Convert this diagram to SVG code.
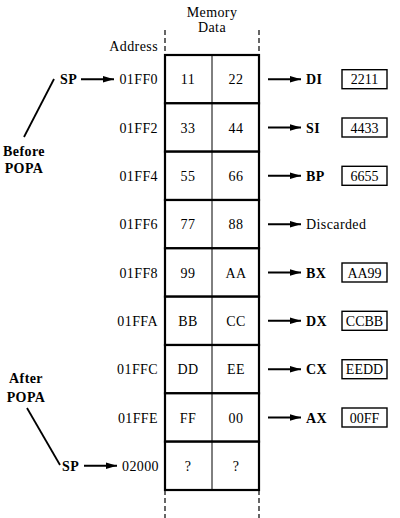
<svg xmlns="http://www.w3.org/2000/svg" width="400" height="518" viewBox="0 0 400 518" font-family="'Liberation Serif', 'DejaVu Serif', 'Times New Roman', serif">
<style>
text{font-family:"Liberation Serif","DejaVu Serif","Times New Roman",Times,serif;font-size:14px;fill:#000;letter-spacing:0.4px}
.b{font-weight:bold}
.m{text-anchor:middle}
.r{text-anchor:end}
.v{font-size:14px;letter-spacing:0}
.cell{fill:#fff;stroke:#000;stroke-width:2.2}
.div{stroke:#000;stroke-width:1}
.reg{fill:#fff;stroke:#000;stroke-width:1.4}
.dash{stroke:#000;stroke-width:1.2;stroke-dasharray:5,3;fill:none}
.arr{stroke:#000;stroke-width:2;fill:none;marker-end:url(#ah)}
.ln{stroke:#000;stroke-width:1.8;fill:none}
</style>
<defs>
<marker id="ah" markerWidth="12" markerHeight="8" refX="11" refY="4" orient="auto" markerUnits="userSpaceOnUse">
<path d="M0,0.8 L11,4 L0,7.2 Z" fill="#000"/>
</marker>
</defs>
<g id="header">
<text class="m" x="212" y="17">Memory</text>
<text class="m" x="212" y="32">Data</text>
<text class="r" x="158" y="51">Address</text>
<line class="dash" x1="165" y1="30" x2="165" y2="55"/>
<line class="dash" x1="259" y1="30" x2="259" y2="55"/>
<line class="dash" x1="165" y1="490" x2="165" y2="518"/>
<line class="dash" x1="259" y1="490" x2="259" y2="518"/>
</g>
<g id="row0"><rect class="cell" x="165" y="55" width="94" height="48.3"/><line class="div" x1="212" y1="55" x2="212" y2="103.3"/><text class="r" x="158" y="84">01FF0</text><text class="m" x="188" y="84">11</text><text class="m" x="236" y="84">22</text></g>
<g id="row1"><rect class="cell" x="165" y="103.3" width="94" height="48.3"/><line class="div" x1="212" y1="103.3" x2="212" y2="151.7"/><text class="r" x="158" y="132.5">01FF2</text><text class="m" x="188" y="132.5">33</text><text class="m" x="236" y="132.5">44</text></g>
<g id="row2"><rect class="cell" x="165" y="151.7" width="94" height="48.3"/><line class="div" x1="212" y1="151.7" x2="212" y2="200"/><text class="r" x="158" y="181">01FF4</text><text class="m" x="188" y="181">55</text><text class="m" x="236" y="181">66</text></g>
<g id="row3"><rect class="cell" x="165" y="200" width="94" height="48.3"/><line class="div" x1="212" y1="200" x2="212" y2="248.3"/><text class="r" x="158" y="229">01FF6</text><text class="m" x="188" y="229">77</text><text class="m" x="236" y="229">88</text></g>
<g id="row4"><rect class="cell" x="165" y="248.3" width="94" height="48.3"/><line class="div" x1="212" y1="248.3" x2="212" y2="296.7"/><text class="r" x="158" y="277.5">01FF8</text><text class="m" x="188" y="277.5">99</text><text class="m" x="236" y="277.5">AA</text></g>
<g id="row5"><rect class="cell" x="165" y="296.7" width="94" height="48.3"/><line class="div" x1="212" y1="296.7" x2="212" y2="345"/><text class="r" x="158" y="326">01FFA</text><text class="m" x="188" y="326">BB</text><text class="m" x="236" y="326">CC</text></g>
<g id="row6"><rect class="cell" x="165" y="345" width="94" height="48.3"/><line class="div" x1="212" y1="345" x2="212" y2="393.3"/><text class="r" x="158" y="374">01FFC</text><text class="m" x="188" y="374">DD</text><text class="m" x="236" y="374">EE</text></g>
<g id="row7"><rect class="cell" x="165" y="393.3" width="94" height="48.3"/><line class="div" x1="212" y1="393.3" x2="212" y2="441.7"/><text class="r" x="158" y="422.5">01FFE</text><text class="m" x="188" y="422.5">FF</text><text class="m" x="236" y="422.5">00</text></g>
<g id="row8"><rect class="cell" x="165" y="441.7" width="94" height="48.3"/><line class="div" x1="212" y1="441.7" x2="212" y2="490"/><text class="r" x="159" y="471">02000</text><text class="m" x="188" y="471">?</text><text class="m" x="236" y="471">?</text></g>
<g id="reg-di"><text class="b" x="306" y="84">DI</text><rect class="reg" x="342" y="69.7" width="45" height="19"/><text class="m v" x="364.5" y="84">2211</text></g>
<g id="reg-si"><text class="b" x="306" y="132.5">SI</text><rect class="reg" x="342" y="118" width="45" height="19"/><text class="m v" x="364.5" y="132.5">4433</text></g>
<g id="reg-bp"><text class="b" x="306" y="181">BP</text><rect class="reg" x="342" y="166.3" width="45" height="19"/><text class="m v" x="364.5" y="181">6655</text></g>
<g id="discarded"><text x="306" y="229">Discarded</text></g>
<g id="reg-bx"><text class="b" x="306" y="277.5">BX</text><rect class="reg" x="342" y="263" width="45" height="19"/><text class="m v" x="364.5" y="277.5">AA99</text></g>
<g id="reg-dx"><text class="b" x="306" y="326">DX</text><rect class="reg" x="342" y="311.3" width="45" height="19"/><text class="m v" x="364.5" y="326">CCBB</text></g>
<g id="reg-cx"><text class="b" x="306" y="374">CX</text><rect class="reg" x="342" y="359.7" width="45" height="19"/><text class="m v" x="364.5" y="374">EEDD</text></g>
<g id="reg-ax"><text class="b" x="306" y="422.5">AX</text><rect class="reg" x="342" y="408" width="45" height="19"/><text class="m v" x="364.5" y="422.5">00FF</text></g>
<g id="before"><text class="b m" x="24" y="156">Before</text><text class="b m" x="24" y="173">POPA</text><text class="b" x="60" y="84">SP</text></g>
<g id="after"><text class="b m" x="26" y="383">After</text><text class="b m" x="26" y="402">POPA</text><text class="b" x="62" y="471">SP</text></g>
<g id="connectors">
<line class="ln" x1="54" y1="79" x2="24" y2="137"/>
<line class="ln" x1="27" y1="408" x2="60" y2="465"/>
<line class="arr" x1="81" y1="79.2" x2="114" y2="79.2"/>
<line class="arr" x1="84" y1="465.8" x2="117" y2="465.8"/>
<line class="arr" x1="268" y1="79.2" x2="301" y2="79.2"/>
<line class="arr" x1="268" y1="127.5" x2="301" y2="127.5"/>
<line class="arr" x1="268" y1="175.8" x2="301" y2="175.8"/>
<line class="arr" x1="268" y1="224.2" x2="301" y2="224.2"/>
<line class="arr" x1="268" y1="272.5" x2="301" y2="272.5"/>
<line class="arr" x1="268" y1="320.8" x2="301" y2="320.8"/>
<line class="arr" x1="268" y1="369.2" x2="301" y2="369.2"/>
<line class="arr" x1="268" y1="417.5" x2="301" y2="417.5"/>
</g>
</svg>
